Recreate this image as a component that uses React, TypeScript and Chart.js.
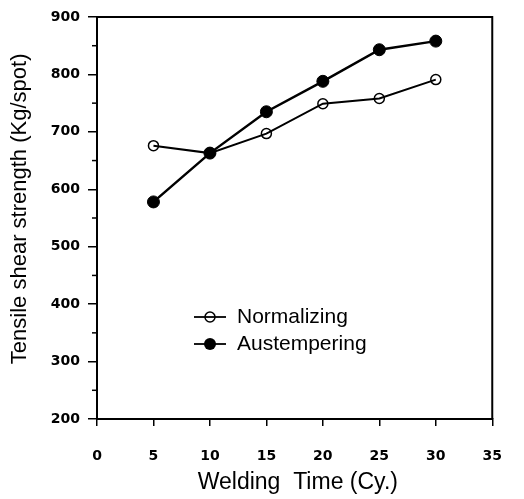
import React, { useEffect, useRef } from "react";
import { Chart, registerables } from "chart.js";

Chart.register(...registerables);

// ---- data ----
const weldingTimes = [5, 10, 15, 20, 25, 30];
const normalizing = [676, 663, 697, 749, 758, 791];
const austempering = [578, 663, 735, 788, 843, 858];
const seriesNames = ["Normalizing", "Austempering"];
const xTickValues = [0, 5, 10, 15, 20, 25, 30, 35];
const yTickValues = [200, 300, 400, 500, 600, 700, 800, 900];
const yMinorTickValues = [250, 350, 450, 550, 650, 750, 850];
const xTitle = " Welding  Time (Cy.)";
const yTitle = "   Tensile shear strength (Kg/spot)";

const TEXT_FONT = "'Liberation Sans', Arial, sans-serif";
const TICK_FONT = "'DejaVu Sans', sans-serif";

const framePlugin = {
  id: "frameAndMinor",
  afterDraw(chart: any) {
    const { ctx, chartArea, scales } = chart;
    const y = scales.y;
    ctx.save();
    ctx.strokeStyle = "#000";
    ctx.lineWidth = 2;
    ctx.beginPath();
    ctx.moveTo(chartArea.left, chartArea.top);
    ctx.lineTo(chartArea.right, chartArea.top);
    ctx.lineTo(chartArea.right, chartArea.bottom);
    ctx.stroke();
    ctx.lineWidth = 1.5;
    yMinorTickValues.forEach((v) => {
      const py = y.getPixelForValue(v);
      ctx.beginPath();
      ctx.moveTo(chartArea.left - 5, py);
      ctx.lineTo(chartArea.left, py);
      ctx.stroke();
    });
    ctx.restore();
  },
};

const legendPlugin = {
  id: "insideLegend",
  afterDatasetsDraw(chart: any) {
    const { ctx, chartArea } = chart;
    const x0 = chartArea.left + 97;
    const rows = [
      { y: chartArea.top + 300, filled: false, r: 5, name: seriesNames[0] },
      { y: chartArea.top + 327, filled: true, r: 6, name: seriesNames[1] },
    ];
    ctx.save();
    rows.forEach((row) => {
      ctx.strokeStyle = "#000";
      ctx.lineWidth = 1.8;
      ctx.beginPath();
      ctx.moveTo(x0, row.y);
      ctx.lineTo(x0 + 32, row.y);
      ctx.stroke();
      ctx.beginPath();
      ctx.arc(x0 + 16, row.y, row.r, 0, Math.PI * 2);
      if (row.filled) {
        ctx.fillStyle = "#000";
        ctx.fill();
      } else {
        ctx.lineWidth = 1.5;
        ctx.stroke();
      }
      ctx.fillStyle = "#000";
      ctx.font = `21px ${TEXT_FONT}`;
      ctx.textAlign = "left";
      ctx.textBaseline = "middle";
      ctx.fillText(row.name, x0 + 43, row.y);
    });
    ctx.restore();
  },
};

export default function App() {
  const canvasRef = useRef<HTMLCanvasElement | null>(null);

  useEffect(() => {
    const canvas = canvasRef.current;
    if (!canvas) return;
    const chart = new Chart(canvas, {
      type: "line",
      data: {
        datasets: [
          {
            label: seriesNames[1],
            data: weldingTimes.map((x, i) => ({ x, y: austempering[i] })),
            borderColor: "#000",
            borderWidth: 2.5,
            pointRadius: 6,
            pointBackgroundColor: "#000",
            pointBorderColor: "#000",
            pointBorderWidth: 1,
            tension: 0,
          },
          {
            label: seriesNames[0],
            data: weldingTimes.map((x, i) => ({ x, y: normalizing[i] })),
            borderColor: "#000",
            borderWidth: 2,
            pointRadius: 5,
            pointBackgroundColor: "rgba(0,0,0,0)",
            pointBorderColor: "#000",
            pointBorderWidth: 1.5,
            tension: 0,
          },
        ],
      },
      options: {
        responsive: false,
        animation: false,
        devicePixelRatio: 1,
        layout: { padding: { top: 17, right: 22, left: 0, bottom: 0 } },
        plugins: {
          legend: { display: false },
          tooltip: { enabled: false },
        },
        scales: {
          x: {
            type: "linear",
            min: 0,
            max: 35,
            afterBuildTicks: (scale: any) => {
              scale.ticks = xTickValues.map((v) => ({ value: v }));
            },
            afterFit: (scale: any) => {
              scale.height = 80;
            },
            ticks: {
              color: "#000",
              padding: 22,
              font: { family: TICK_FONT, size: 14, weight: "bold" },
              callback: (v: any) => String(v),
            },
            grid: {
              display: true,
              drawOnChartArea: false,
              drawTicks: true,
              tickLength: 7,
              color: "#000",
              lineWidth: 1.5,
            },
            border: { display: true, color: "#000", width: 2 },
            title: {
              display: true,
              text: xTitle,
              color: "#000",
              font: { family: TEXT_FONT, size: 23 },
              padding: { top: 0, bottom: 3 },
            },
          },
          y: {
            type: "linear",
            min: 200,
            max: 900,
            afterBuildTicks: (scale: any) => {
              scale.ticks = yTickValues.map((v) => ({ value: v }));
            },
            afterFit: (scale: any) => {
              scale.width = 97;
            },
            ticks: {
              color: "#000",
              padding: 8,
              font: { family: TICK_FONT, size: 14, weight: "bold" },
              callback: (v: any) => String(v),
            },
            grid: {
              display: true,
              drawOnChartArea: false,
              drawTicks: true,
              tickLength: 9,
              color: "#000",
              lineWidth: 1.5,
            },
            border: { display: true, color: "#000", width: 2 },
            title: {
              display: true,
              text: yTitle,
              color: "#000",
              font: { family: TEXT_FONT, size: 22 },
              padding: { top: 7, bottom: 0 },
            },
          },
        },
      },
      plugins: [framePlugin, legendPlugin],
    } as any);
    return () => chart.destroy();
  }, []);

  return (
    <div style={{ position: "absolute", left: 0, top: 0, width: 524, height: 499, background: "#fff" }}>
      <canvas ref={canvasRef} width={524} height={499} style={{ width: 524, height: 499 }} />
    </div>
  );
}
